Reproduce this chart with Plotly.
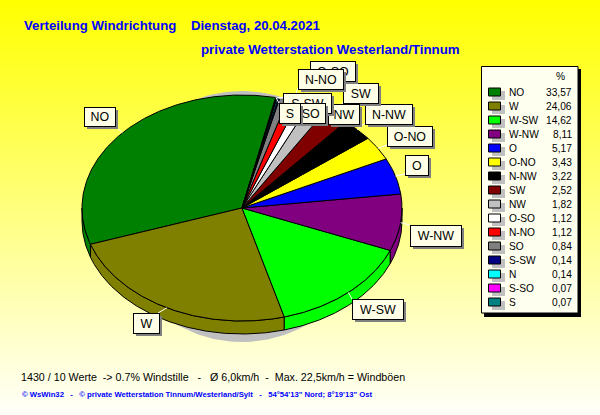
import numpy as np
import plotly.graph_objects as go

# Data
categories = ["NO", "W", "W-SW", "W-NW", "O", "O-NO", "N-NW", "SW", "NW", "O-SO", "N-NO", "SO", "S-SW", "N", "S-SO", "S"]
values = [33.57, 24.06, 14.62, 8.11, 5.17, 3.43, 3.22, 2.52, 1.82, 1.12, 1.12, 0.84, 0.14, 0.14, 0.07, 0.07]
value_labels = ["33,57", "24,06", "14,62", "8,11", "5,17", "3,43", "3,22", "2,52", "1,82", "1,12", "1,12", "0,84", "0,14", "0,14", "0,07", "0,07"]
colors = ["#008000", "#808000", "#00FF00", "#800080", "#0000FF", "#FFFF00", "#000000", "#800000",
          "#C0C0C0", "#FFFFFF", "#FF0000", "#808080", "#000080", "#00FFFF", "#FF00FF", "#008080"]

title_1 = "Verteilung Windrichtung\u00a0\u00a0\u00a0\u00a0Dienstag, 20.04.2021"
title_2 = "private Wetterstation Westerland/Tinnum"
footer_1 = "1430 / 10 Werte\u00a0\u00a0-> 0.7% Windstille\u00a0\u00a0\u00a0-\u00a0\u00a0\u00a0Ø 6,0km/h\u00a0\u00a0-\u00a0\u00a0Max. 22,5km/h = Windböen"
footer_2 = "© WsWin32\u00a0\u00a0\u00a0-\u00a0\u00a0\u00a0© private Wetterstation Tinnum/Westerland/Sylt\u00a0\u00a0\u00a0-\u00a0\u00a0\u00a054°54'13\" Nord; 8°19'13\" Ost"

# Layout (pixel space of the 600x415 canvas)
W, H = 600, 415
CX, CY, RX, RY, DEPTH = 242, 208, 160, 113, 13
START = 77.9
LABEL_FILL = "#FFFFE8"
PANEL_FILL = "#FFFFF0"
# label draw order with boxes (x0, y0, x1, y1)
label_boxes = {
    "NO": (84, 107, 114, 125), "W": (133, 313, 158, 332), "W-SW": (352, 299, 402, 318),
    "W-NW": (410, 225, 460, 245), "O": (405, 155, 427, 174), "O-NO": (387, 126, 431, 145),
    "N-NW": (365, 104, 411, 123), "SW": (343, 83, 377, 102), "O-SO": (310, 61, 354, 80),
    "N-NO": (298, 69, 342, 88), "NW": (328, 104, 358, 123), "N": (285, 95, 299, 112),
    "S-SO": (285, 95, 325, 112), "S-SW": (283, 93, 330, 112), "SO": (296, 103, 324, 122),
    "S": (279, 103, 299, 122),
}


def pt(deg, dy=0):
    a = np.radians(deg)
    return CX + RX * np.cos(a), CY - RY * np.sin(a) + dy


fig = go.Figure()

# Gradient background
rows = np.arange(H) + 0.5
fig.add_trace(go.Heatmap(x=[0, W], y=rows, z=[[r / H, r / H] for r in rows],
                         colorscale=[[0, "#FFFF00"], [1, "#FFFFFA"]], zmin=0, zmax=1,
                         showscale=False, hoverinfo="skip"))

# Grey drop shadow of the pie
t = np.radians(np.linspace(0, 360, 181))
fig.add_trace(go.Scatter(x=CX + 128 * np.cos(t), y=216.5 + 125.5 * np.sin(t), mode="lines",
                         fill="toself", fillcolor="#C0C0C0", line=dict(width=0), hoverinfo="skip"))

# Slice angles
fr = np.cumsum([0] + values) / sum(values) * 360 + START
mids = (fr[:-1] + fr[1:]) / 2

# Walls
for i in range(len(values)):
    lo, hi = max(fr[i], 180), min(fr[i + 1], 360)
    lo2, hi2 = max(fr[i] - 360, 180), min(fr[i + 1] - 360, 360)
    if lo2 < hi2:
        lo, hi = lo2, hi2
    if lo >= hi:
        continue
    a = np.linspace(lo, hi, max(int(hi - lo) * 2, 2))
    xs, ys = pt(a)
    fig.add_trace(go.Scatter(x=np.r_[xs, xs[::-1], xs[0]], y=np.r_[ys, ys[::-1] + DEPTH, ys[0]],
                             mode="lines", fill="toself", fillcolor=colors[i],
                             line=dict(color="black", width=1), hoverinfo="skip"))

# Top surface
for i in range(len(values)):
    a = np.linspace(fr[i], fr[i + 1], max(int(fr[i + 1] - fr[i]) * 2, 2))
    xs, ys = pt(a)
    fig.add_trace(go.Scatter(x=np.r_[CX, xs, CX], y=np.r_[CY, ys, CY], mode="lines", fill="toself",
                             fillcolor=colors[i], line=dict(color="black", width=1),
                             name=categories[i], hoverinfo="name"))

# Leader lines
for i, c in enumerate(categories):
    x0, y0, x1, y1 = label_boxes[c]
    rx, ry = pt(mids[i])
    fig.add_trace(go.Scatter(x=[rx, min(max(rx, x0), x1)], y=[ry, min(max(ry, y0), y1)], mode="lines",
                             line=dict(color="white", width=1), hoverinfo="skip"))

shapes = []
# Legend panel
shapes.append(dict(type="rect", x0=484, y0=69, x1=581, y1=317, fillcolor="black", line_width=0))
shapes.append(dict(type="rect", x0=481.5, y0=66.5, x1=578, y1=313, fillcolor=PANEL_FILL,
                   line=dict(color="black", width=1)))
annotations = []


def text(x, y, s, size=10.2, color="black", anchor="left", family="Liberation Sans", bold=False):
    annotations.append(dict(x=x, y=y, xref="x", yref="y", text=f"<b>{s}</b>" if bold else s,
                            xanchor=anchor, yanchor="middle", showarrow=False,
                            font=dict(family=family, size=size, color=color)))


text(560, 76, "%", anchor="center")
for i, c in enumerate(categories):
    yc = 92 + 14 * i
    shapes.append(dict(type="rect", x0=492, y0=yc - 1, x1=505, y1=yc + 8, fillcolor="#C0C0C0", line_width=0))
    shapes.append(dict(type="rect", x0=488.5, y0=yc - 4, x1=500.5, y1=yc + 4, fillcolor=colors[i],
                       line=dict(color="black", width=1)))
    text(507, yc, c)
    text(574, yc, value_labels[i], anchor="right")

text(21.5, 25, title_1, size=13.2, color="#0000FF", bold=True)
text(198.5, 49, title_2, size=13.3, color="#0000FF", bold=True)
text(19, 377, footer_1, size=10.7)
text(20, 394, footer_2, size=7.7, color="#0000FF", bold=True)

# Chart labels with their shadows
for c, (x0, y0, x1, y1) in label_boxes.items():
    w, h = x1 - x0, y1 - y0
    annotations.append(dict(x=x0 + 3, y=y0 + 3, xref="x", yref="y", text="\u00a0", width=w + 1, height=h + 1,
                            xanchor="left", yanchor="top", showarrow=False, bgcolor="#808080", borderpad=0,
                            borderwidth=0, font=dict(size=10)))
    annotations.append(dict(x=x0, y=y0, xref="x", yref="y", text=c, width=w, height=h, align="center",
                            valign="middle", xanchor="left", yanchor="top", showarrow=False, bgcolor=LABEL_FILL,
                            bordercolor="black", borderwidth=1, borderpad=0,
                            font=dict(family="Liberation Sans", size=12.4, color="black")))

fig.update_layout(width=W, height=H, margin=dict(l=0, r=0, t=0, b=0), showlegend=False,
                  paper_bgcolor="#FFFFF0", plot_bgcolor="#FFFFF0", shapes=shapes, annotations=annotations,
                  xaxis=dict(range=[0, W], visible=False, fixedrange=True),
                  yaxis=dict(range=[H, 0], visible=False, fixedrange=True))
fig.write_html("out.html", config=dict(displayModeBar=False),
               post_script="document.documentElement.style.overflow='hidden';document.body.style.margin='0';")
